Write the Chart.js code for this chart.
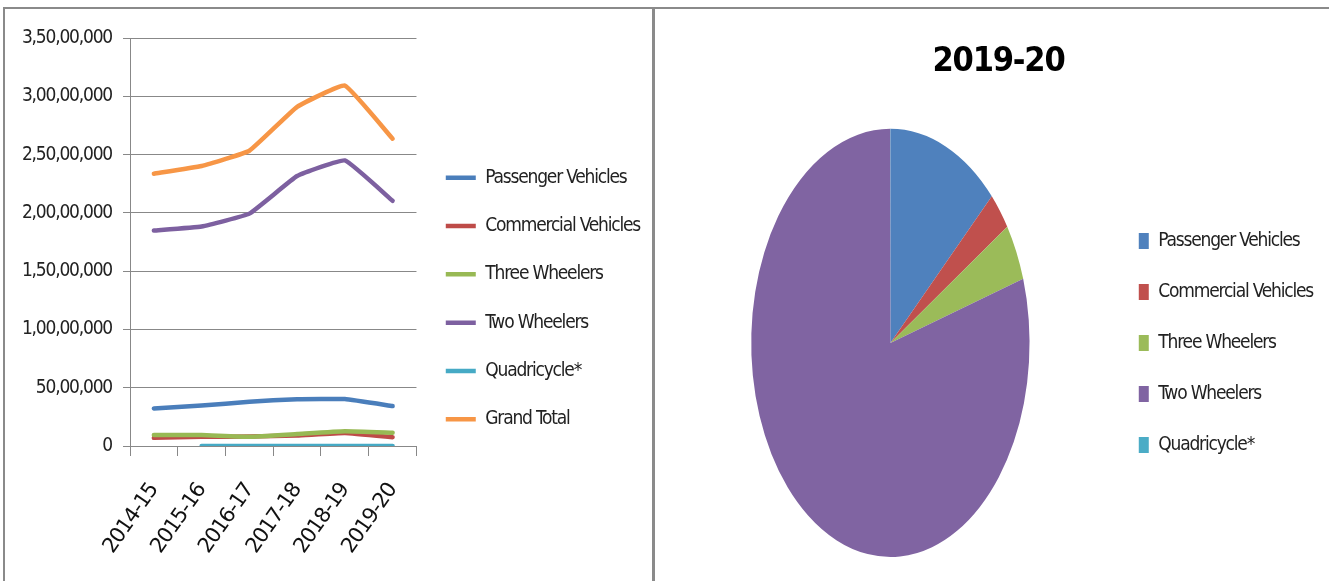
<!DOCTYPE html>
<html lang="en">
<head>
  <meta charset="UTF-8" />
  <title>Automobile Production Trends</title>
  <script src="https://cdn.jsdelivr.net/npm/chart.js"></script>
  <style>
    body { margin: 0; background: #fff; width: 1329px; height: 581px; overflow: hidden; position: relative; }
    .frame { position: absolute; left: 3px; top: 7px; width: 1340px; height: 590px; border-top: 2px solid #8a8a8a; border-left: 2px solid #8a8a8a; }
    .divider { position: absolute; left: 652px; top: 7px; width: 3px; height: 580px; background: #8a8a8a; }
    #lineChart { position: absolute; left: 5px; top: 10px; }
    #pieChart { position: absolute; left: 656px; top: 10px; }
  </style>
</head>
<body>
  <div class="frame"></div>
  <div class="divider"></div>
  <canvas id="lineChart" width="646" height="571"></canvas>
  <canvas id="pieChart" width="673" height="571"></canvas>

  <script>
    const years = ['2014-15', '2015-16', '2016-17', '2017-18', '2018-19', '2019-20'];
    const segments = ['Passenger Vehicles', 'Commercial Vehicles', 'Three Wheelers', 'Two Wheelers', 'Quadricycle*'];

    const passenger  = [3221419, 3465045, 3801670, 4020267, 4028471, 3424564];
    const commercial = [698298, 786692, 810253, 895448, 1112405, 756725];
    const threeWh    = [949019, 934104, 783721, 1022181, 1268833, 1133858];
    const twoWh      = [18489311, 18830227, 19933739, 23154838, 24499777, 21036294];
    const quadri     = [null, 531, 1584, 1713, 5934, 6095];
    const grandTotal = [23358047, 24016599, 25330967, 29094447, 30915420, 26362284];

    const yTicks = [0, 5000000, 10000000, 15000000, 20000000, 25000000, 30000000, 35000000];

    const lineColors = ['#4a7ebb', '#be4b48', '#98b954', '#7d60a0', '#46aac5', '#f79646'];
    const pieColors  = ['#4f81bd', '#c0504d', '#9bbb59', '#8064a2', '#4bacc6'];

    const FONT = "'DejaVu Sans Condensed', 'DejaVu Sans', sans-serif";
    Chart.defaults.font.family = FONT;
    Chart.defaults.color = '#222';

    // the source used a narrow office font, tighten the text a bit
    Chart.register({
      id: 'tightText',
      beforeUpdate(chart) { chart.ctx.letterSpacing = '-1.2px'; },
      beforeDraw(chart) { chart.ctx.letterSpacing = '-1.2px'; }
    });

    // indian digit grouping: 3,50,00,000
    function fmtIN(v) {
      const s = String(Math.round(v));
      if (s.length <= 3) return s;
      const rest = s.slice(0, -3).replace(/\B(?=(\d{2})+(?!\d))/g, ',');
      return rest + ',' + s.slice(-3);
    }

    const series = [passenger, commercial, threeWh, twoWh, quadri, grandTotal];
    const names = segments.concat(['Grand Total']);

    new Chart(document.getElementById('lineChart'), {
      type: 'line',
      data: {
        labels: years,
        datasets: series.map((d, i) => ({
          label: names[i],
          data: d,
          borderColor: lineColors[i],
          backgroundColor: lineColors[i],
          borderWidth: 4.5,
          borderCapStyle: 'round',
          borderJoinStyle: 'round',
          pointRadius: 0,
          pointStyle: 'line',
          tension: 0.1,
          order: series.length - i   // later series on top, like excel
        }))
      },
      options: {
        responsive: false,
        animation: false,
        events: [],
        layout: { padding: { top: 28, right: 1, bottom: 22, left: 0 } },
        scales: {
          x: {
            offset: true,
            grid: { offset: true, drawOnChartArea: false, tickLength: 10, color: '#888' },
            border: { color: '#888' },
            ticks: { autoSkip: false, minRotation: 55, maxRotation: 55, padding: 23, color: '#111',
                     font: { family: "'DejaVu Sans', sans-serif", size: 21 } },
            afterFit(s) { s.height = 113; }
          },
          y: {
            min: 0,
            max: yTicks[yTicks.length - 1],
            afterBuildTicks(s) { s.ticks = yTicks.map(v => ({ value: v })); },
            grid: { color: '#888', tickLength: 7 },
            border: { color: '#888' },
            ticks: { padding: 11, color: '#222', font: { size: 19 }, callback: v => fmtIN(v) },
            afterFit(s) { s.width = 125; }
          }
        },
        plugins: {
          legend: {
            position: 'right',
            maxWidth: 320,
            labels: {
              usePointStyle: true, pointStyleWidth: 30, padding: 29.3, color: '#222', font: { size: 19 },
              sort: (a, b) => a.datasetIndex - b.datasetIndex
            }
          },
          tooltip: { enabled: false }
        }
      }
    });

    // pie in the source is stretched into an ellipse
    const squeezePie = {
      id: 'squeezePie',
      beforeDatasetsDraw(chart) {
        const arc = chart.getDatasetMeta(0).data[0];
        const ctx = chart.ctx;
        ctx.save();
        ctx.translate(arc.x, arc.y);
        ctx.scale(0.65, 1);
        ctx.translate(-arc.x, -arc.y);
      },
      afterDatasetsDraw(chart) {
        chart.ctx.restore();
      }
    };

    const last = years.length - 1;
    new Chart(document.getElementById('pieChart'), {
      type: 'pie',
      data: {
        labels: segments,
        datasets: [{
          data: [passenger[last], commercial[last], threeWh[last], twoWh[last], quadri[last]],
          backgroundColor: pieColors,
          borderWidth: 0,
          hoverOffset: 0
        }]
      },
      options: {
        responsive: false,
        animation: false,
        events: [],
        layout: { padding: { top: 0, right: 6, bottom: 24, left: 18 } },
        plugins: {
          title: {
            display: true,
            text: years[last],
            color: '#000',
            font: { size: 34, weight: 'bold' },
            padding: { top: 32, bottom: 46 }
          },
          legend: {
            position: 'right',
            fullSize: false,
            labels: { boxWidth: 10, boxHeight: 16, padding: 32, color: '#222', font: { size: 19 } }
          },
          tooltip: { enabled: false }
        }
      },
      plugins: [squeezePie]
    });
  </script>
</body>
</html>
